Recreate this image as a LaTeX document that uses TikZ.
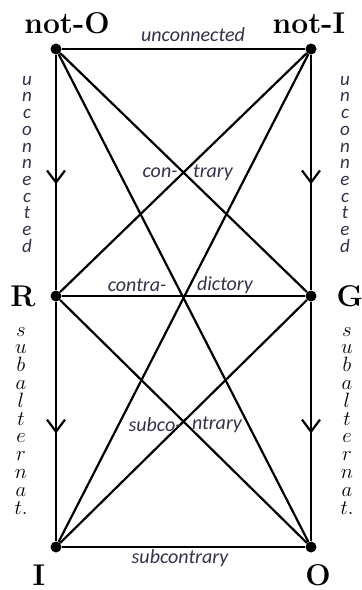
\documentclass[tikz,border=0pt]{standalone}
\usepackage{fontspec}
\newfontfamily\labfont{Carlito}
\usetikzlibrary{arrows.meta,decorations.markings}
\definecolor{labc}{RGB}{50,50,75}
\newcommand\mytightlines{\setlength{\lineskiplimit}{-30pt}\setlength{\lineskip}{0pt}}
\begin{document}
\begin{tikzpicture}[x=1pt,y=-1pt,
  dot/.style={circle,fill=black,inner sep=0pt,minimum size=11pt},
  edge/.style={line width=2.2pt},
  downarrow/.style={edge,postaction={decorate},decoration={markings,
     mark=at position 0.55 with {\arrow{Straight Barb[length=12pt,width=18pt]}}}},
  big/.style={font=\fontsize{30}{30}\bfseries\selectfont,text=black,inner sep=0pt},
  rel/.style={font=\labfont\itshape\fontsize{20}{20}\selectfont,text=labc,inner sep=0pt},
  vrel/.style={font=\labfont\itshape\fontsize{19}{16.7}\selectfont,
     text=labc,inner sep=0pt,anchor=north,align=center},
  vmath/.style={font=\fontsize{20}{17.8}\selectfont,
     text=black,inner sep=0pt,anchor=north,align=center}
]
\useasboundingbox (0,0) rectangle (362,590);
% vertices
\node[dot] (nO) at (56,49) {};
\node[dot] (nI) at (311,49) {};
\node[dot] (R) at (56,296) {};
\node[dot] (G) at (311,296) {};
\node[dot] (I) at (56,547) {};
\node[dot] (O) at (311,547) {};
% sides
\draw[edge] (nO) -- (nI);
\draw[edge] (R) -- (G);
\draw[edge] (I) -- (O);
\draw[downarrow] (nO) -- (R);
\draw[downarrow] (R) -- (I);
\draw[downarrow] (nI) -- (G);
\draw[downarrow] (G) -- (O);
% diagonals
\draw[edge] (nO) -- (G);
\draw[edge] (nO) -- (O);
\draw[edge] (nI) -- (R);
\draw[edge] (nI) -- (I);
\draw[edge] (R) -- (O);
\draw[edge] (G) -- (I);
% corner labels
\node[big] (lnO) at (67,23) {not-O};
\node[big] (lnI) at (309,23) {not-I};
\node[big] (lR) at (23,296) {R};
\node[big] (lG) at (350,296) {G};
\node[big] (lI) at (39,575) {I};
\node[big] (lO) at (318,575) {O};
% relation labels
\node[rel] (tun) at (193,35) {unconnected};
\node[rel] (tc1) at (160,173) {con-};
\node[rel] (tc2) at (213,173) {trary};
\node[rel] (td1) at (137,285) {contra-};
\node[rel] (td2) at (225,285) {dictory};
\node[rel] (ts1) at (155,425) {subco-};
\node[rel] (ts2) at (217,425) {ntrary};
\node[rel] (tsub) at (180,558) {subcontrary};
% vertical labels
\node[vrel] (ul) at (27,76) {\mytightlines u\\n\\c\\o\\n\\n\\e\\c\\t\\e\\d};
\node[vrel] (ur) at (345,76) {\mytightlines u\\n\\c\\o\\n\\n\\e\\c\\t\\e\\d};
\node[vmath] (sl) at (21,327) {\mytightlines $s$\\$u$\\$b$\\$a$\\$l$\\$t$\\$e$\\$r$\\$n$\\$a$\\$t.$};
\node[vmath] (sr) at (347,327) {\mytightlines $s$\\$u$\\$b$\\$a$\\$l$\\$t$\\$e$\\$r$\\$n$\\$a$\\$t.$};
\end{tikzpicture}
\end{document}
